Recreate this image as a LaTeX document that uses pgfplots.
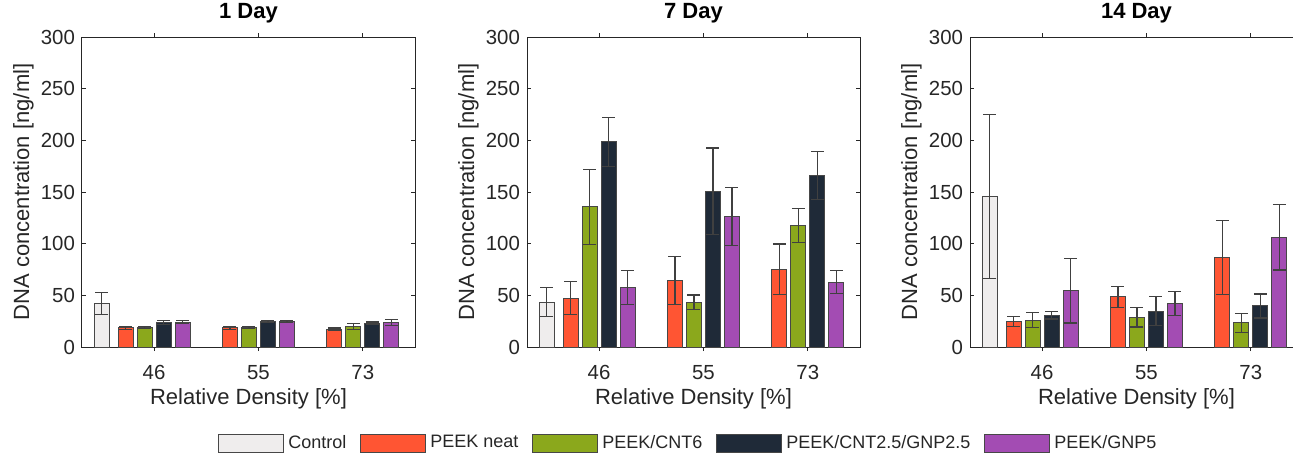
\documentclass[border=0pt]{standalone}
\usepackage{fontspec}
\setmainfont{Liberation Sans}
\usepackage{pgfplots}
\usepackage{pgfplotstable}
\pgfplotsset{compat=1.18}

\definecolor{ctrl}{HTML}{EFEDED}
\definecolor{neat}{HTML}{FF5533}
\definecolor{cnt}{HTML}{8BA81C}
\definecolor{hyb}{HTML}{1F2A38}
\definecolor{gnp}{HTML}{A34CB3}
\definecolor{axgray}{HTML}{262626}

% x = group (46, 55, 73), value and error for each material
\pgfplotstableread{
x neat neatE cnt cntE hyb hybE gnp gnpE
1 18.4 1.5 19.0 1.0 24.0 2.0 24.0 1.5
2 18.4 1.5 19.0 1.0 24.5 1.0 24.8 1.2
3 17.4 1.0 20.0 3.0 23.2 1.0 23.9 3.0
}\dayone
\pgfplotstableread{
x neat neatE cnt cntE hyb hybE gnp gnpE
1 47.1 16.0 135.5 36.0 198.4 23.4 57.4 16.5
2 64.5 23.0 43.2 7.1 150.6 42.0 126.5 28.0
3 75.2 24.5 117.7 16.5 166.1 23.0 62.6 11.2
}\dayseven
\pgfplotstableread{
x neat neatE cnt cntE hyb hybE gnp gnpE
1 24.5 4.7 26.1 7.6 30.6 3.4 54.5 31.3
2 48.4 9.8 28.7 9.4 34.8 13.9 41.9 11.5
3 86.5 35.8 23.5 9.2 39.7 11.6 106.1 31.5
}\dayfourteen

\pgfplotsset{
  panel/.style={
    width=166.5pt, height=155pt, scale only axis,
    xmin=0.31, xmax=3.5, ymin=0, ymax=300,
    xtick={1,2,3}, xticklabels={46,55,73},
    ytick={0,50,...,300},
    tick align=inside, tick pos=both, major tick length=2pt,
    axis line style={axgray, line width=0.5pt},
    tick style={axgray, line width=0.5pt},
    ticklabel style={font=\fontsize{10.2}{12}\selectfont, text=axgray},
    /pgf/number format/assume math mode=true,
    xticklabel style={anchor=base, yshift=-14pt},
    xlabel={Relative Density [\%]},
    ylabel={DNA concentration [ng/ml]},
    label style={font=\fontsize{11}{13}\selectfont, text=axgray},
    xlabel style={at={(0.5,0)}, anchor=base, yshift=-28.5pt},
    ylabel style={at={(-0.159,0.5)}, anchor=base},
    title style={font=\bfseries\fontsize{11}{13}\selectfont, at={(0.5,1)}, anchor=base, yshift=3.5pt},
    ybar, bar width=0.144,
    legend image code/.code={\draw[#1] (0pt,-4.5pt) rectangle (32.5pt,4.5pt);},
  },
  bars/.style={fill=#1, draw=axgray!85, line width=0.5pt,
    error bars/y dir=both, error bars/y explicit,
    error bars/error bar style={line width=0.6pt, black!75},
    error bars/error mark options={rotate=90, mark size=3.25pt, line width=0.6pt, black!75}},
}

\begin{document}
\begin{tikzpicture}
\useasboundingbox (0,0) rectangle (646.5pt,226pt);

\begin{axis}[panel, at={(41pt,52.5pt)}, anchor=south west, title={1 Day},
  legend columns=5,
  legend style={at={(0.408,-0.31)}, anchor=west, draw=none, fill=none, inner sep=0pt,
    font=\fontsize{9}{11}\selectfont, text=axgray,
    /tikz/every even column/.append style={column sep=5pt}},
  legend cell align=left]
\addplot[bars=ctrl, bar shift=0] coordinates {(0.5,42) +- (0,10.5)};
\addplot[bars=neat, bar shift=-0.273] table[x=x, y=neat, y error=neatE] {\dayone};
\addplot[bars=cnt, bar shift=-0.091] table[x=x, y=cnt, y error=cntE] {\dayone};
\addplot[bars=hyb, bar shift=0.091] table[x=x, y=hyb, y error=hybE] {\dayone};
\addplot[bars=gnp, bar shift=0.273] table[x=x, y=gnp, y error=gnpE] {\dayone};
\legend{Control, PEEK neat, PEEK/CNT6, PEEK/CNT2.5/GNP2.5, PEEK/GNP5}
\end{axis}

\begin{axis}[panel, at={(263.5pt,52.5pt)}, anchor=south west, title={7 Day}]
\addplot[bars=ctrl, bar shift=0] coordinates {(0.5,43.5) +- (0,14.3)};
\addplot[bars=neat, bar shift=-0.273] table[x=x, y=neat, y error=neatE] {\dayseven};
\addplot[bars=cnt, bar shift=-0.091] table[x=x, y=cnt, y error=cntE] {\dayseven};
\addplot[bars=hyb, bar shift=0.091] table[x=x, y=hyb, y error=hybE] {\dayseven};
\addplot[bars=gnp, bar shift=0.273] table[x=x, y=gnp, y error=gnpE] {\dayseven};
\end{axis}

\begin{axis}[panel, at={(485pt,52.5pt)}, anchor=south west, title={14 Day}]
\addplot[bars=ctrl, bar shift=0] coordinates {(0.5,145.8) +- (0,79.2)};
\addplot[bars=neat, bar shift=-0.273] table[x=x, y=neat, y error=neatE] {\dayfourteen};
\addplot[bars=cnt, bar shift=-0.091] table[x=x, y=cnt, y error=cntE] {\dayfourteen};
\addplot[bars=hyb, bar shift=0.091] table[x=x, y=hyb, y error=hybE] {\dayfourteen};
\addplot[bars=gnp, bar shift=0.273] table[x=x, y=gnp, y error=gnpE] {\dayfourteen};
\end{axis}
\end{tikzpicture}
\end{document}
